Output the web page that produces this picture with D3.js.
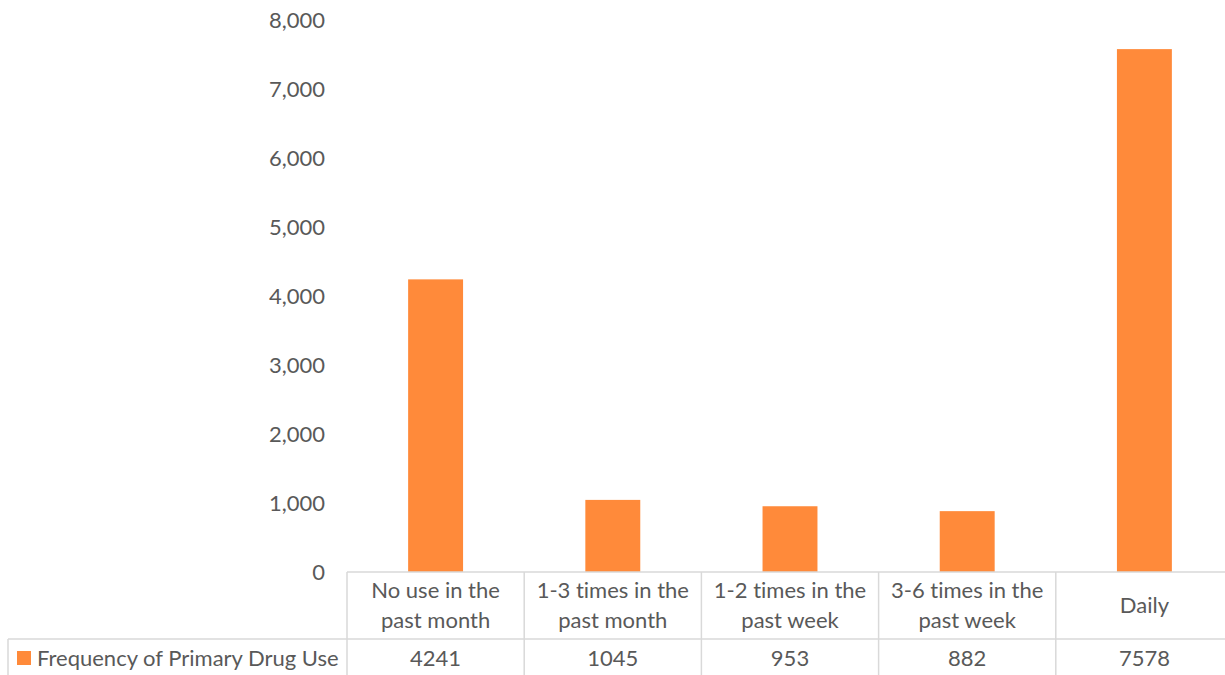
<!DOCTYPE html>
<html>
<head>
<meta charset="utf-8">
<script src="https://cdn.jsdelivr.net/npm/d3@7"></script>
<style>
  html, body { margin: 0; padding: 0; background: #fff; }
  svg { display: block; }
  text { font-family: Lato, "Open Sans", sans-serif; fill: #595959; font-variant-ligatures: none; font-feature-settings: "liga" 0, "dlig" 0; }
</style>
</head>
<body>
<svg id="chart" width="1225" height="675"></svg>
<script>
// Frequency of primary drug use, counts per category
const categories = [
  ["No use in the", "past month"],
  ["1-3 times in the", "past month"],
  ["1-2 times in the", "past week"],
  ["3-6 times in the", "past week"],
  ["Daily"]
];
const values = [4241, 1045, 953, 882, 7578];
const seriesName = "Frequency of Primary Drug Use";
const yTicks = [0, 1000, 2000, 3000, 4000, 5000, 6000, 7000, 8000];

const svg = d3.select("#chart");
const W = 1225, H = 675;
const plot = { left: 347, right: 1233, top: 20, bottom: 572 };
const tableRow = 639, tableLeft = 8;
const barColor = "#ff8a3a";
const lineColor = "#d9d9d9";
const fontSize = 22;

const x = d3.scaleBand()
  .domain(d3.range(values.length))
  .range([plot.left, plot.right])
  .paddingInner(0)
  .paddingOuter(0);

const y = d3.scaleLinear().domain([0, 8000]).range([plot.bottom, plot.top]);

// Bars (about 31% of each category slot)
const barW = x.bandwidth() * 0.31;
svg.append("g").selectAll("rect")
  .data(values)
  .join("rect")
  .attr("x", (d, i) => x(i) + (x.bandwidth() - barW) / 2)
  .attr("y", d => y(d))
  .attr("width", barW)
  .attr("height", d => y(0) - y(d))
  .attr("fill", barColor);

// Value axis labels
const yAxis = d3.axisLeft(y)
  .tickValues(yTicks)
  .tickFormat(d3.format(","))
  .tickSize(0)
  .tickPadding(0);
const ya = svg.append("g")
  .attr("transform", `translate(${325},0)`)
  .call(yAxis);
ya.select(".domain").remove();
ya.selectAll("text")
  .style("font-family", "Lato, 'Open Sans', sans-serif")
  .attr("font-size", fontSize)
  .attr("fill", "#595959");

// Data table grid
const g = svg.append("g")
  .attr("stroke", lineColor)
  .attr("stroke-width", 1.5)
  .attr("fill", "none");
g.append("line").attr("x1", plot.left).attr("x2", W + 10)
  .attr("y1", plot.bottom).attr("y2", plot.bottom);
g.append("line").attr("x1", tableLeft).attr("x2", W + 10)
  .attr("y1", tableRow).attr("y2", tableRow);
g.append("line").attr("x1", tableLeft).attr("x2", tableLeft)
  .attr("y1", tableRow).attr("y2", H + 5);
d3.range(values.length + 1).forEach(i => {
  const xx = i < values.length ? x(i) : plot.right;
  g.append("line").attr("x1", xx).attr("x2", xx)
    .attr("y1", plot.bottom).attr("y2", H + 5);
});

// Category labels
const cat = svg.append("g");
categories.forEach((lines, i) => {
  const cx = x(i) + x.bandwidth() / 2;
  const mid = (plot.bottom + tableRow) / 2;
  const lh = 30;
  lines.forEach((t, j) => {
    cat.append("text")
      .attr("x", cx)
      .attr("y", mid + (j - (lines.length - 1) / 2) * lh)
      .attr("dy", "0.35em")
      .attr("text-anchor", "middle")
      .attr("font-size", fontSize)
      .text(t);
  });
});

// Value row
const rowMid = (tableRow + H + 2) / 2;
svg.append("g").selectAll("text")
  .data(values)
  .join("text")
  .attr("x", (d, i) => x(i) + x.bandwidth() / 2)
  .attr("y", rowMid)
  .attr("dy", "0.35em")
  .attr("text-anchor", "middle")
  .attr("font-size", fontSize)
  .text(d => d);

// Legend key in the table row
svg.append("rect")
  .attr("x", 17).attr("y", rowMid - 7)
  .attr("width", 14).attr("height", 14)
  .attr("fill", barColor);
svg.append("text")
  .attr("x", 37).attr("y", rowMid)
  .attr("dy", "0.35em")
  .attr("font-size", fontSize)
  .text(seriesName);
</script>
</body>
</html>
